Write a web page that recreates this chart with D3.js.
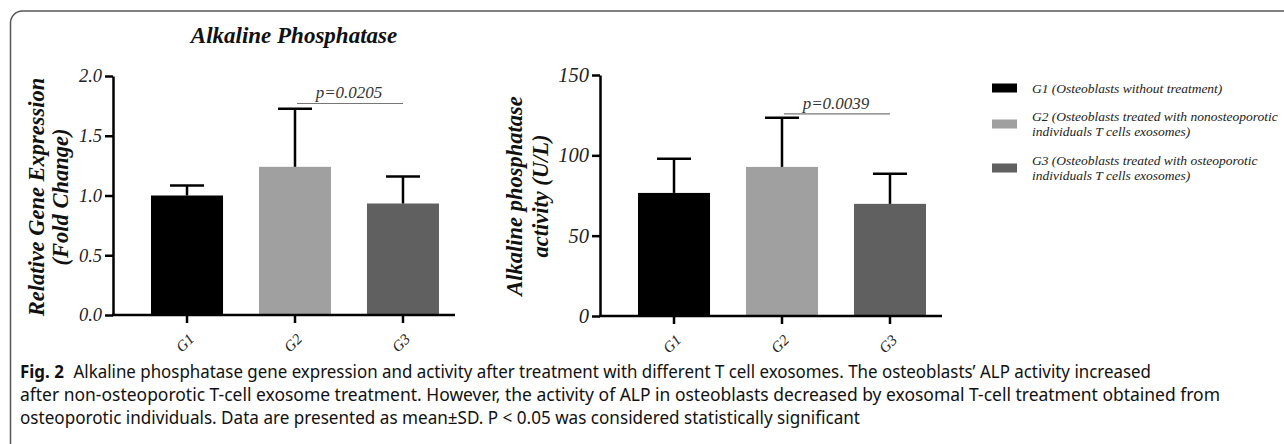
<!DOCTYPE html>
<html>
<head>
<meta charset="utf-8">
<script src="https://cdn.jsdelivr.net/npm/d3@7"></script>
<style>
  body { margin: 0; background: #fff; }
  svg { display: block; }
</style>
</head>
<body>
<script>
const groups = ["G1", "G2", "G3"];
const barColors = ["#000000", "#a0a0a0", "#606060"];

// panel 1: relative gene expression
const geneMean = [1.0, 1.24, 0.933];
const geneSD = [0.083, 0.485, 0.225];
const geneTicks = [0, 0.5, 1.0, 1.5, 2.0];

// panel 2: ALP activity
const activityMean = [76.6, 92.8, 69.8];
const activitySD = [21.2, 30.6, 18.7];
const activityTicks = [0, 50, 100, 150];

// significance bar between G2 and G3
const sigPair = ["G2", "G3"];
const geneSig = [1.77, "p=0.0205"];
const activitySig = [125.8, "p=0.0039"];

const legendLines = [
  ["G1 (Osteoblasts without treatment)"],
  ["G2 (Osteoblasts treated with nonosteoporotic", "individuals T cells exosomes)"],
  ["G3 (Osteoblasts treated with osteoporotic", "individuals T cells exosomes)"]
];

const captionLines = [
  "Alkaline phosphatase gene expression and activity after treatment with different T cell exosomes. The osteoblasts\u2019 ALP activity increased",
  "after non-osteoporotic T-cell exosome treatment. However, the activity of ALP in osteoblasts decreased by exosomal T-cell treatment obtained from",
  "osteoporotic individuals. Data are presented as mean\u00b1SD. P < 0.05 was considered statistically significant"
];

const W = 1284, H = 444;
const serif = "'Liberation Serif', 'DejaVu Serif', serif";

const svg = d3.select('body').append('svg')
  .attr('width', W).attr('height', H)
  .style('background', '#fff');

// figure frame (top + left with rounded corner)
svg.append('path')
  .attr('d', `M10.5,${H} V23 A12,12 0 0 1 22.5,11 H${W}`)
  .attr('fill', 'none').attr('stroke', '#555').attr('stroke-width', 1.5);

function drawPanel(o) {
  const g = svg.append('g');
  const x = d3.scaleBand().domain(groups)
    .range([o.left + 20, o.left + 344]).paddingInner(0.333).paddingOuter(0.1667);
  const y = d3.scaleLinear().domain([0, o.max]).range([o.bottom, o.top]);
  const cx = d => x(d) + x.bandwidth() / 2;

  // bars
  g.selectAll('rect.bar').data(groups).enter().append('rect')
    .attr('x', d => x(d)).attr('width', x.bandwidth())
    .attr('y', (d, i) => y(o.mean[i]))
    .attr('height', (d, i) => y(0) - y(o.mean[i]))
    .attr('fill', (d, i) => barColors[i]);

  // error bars (upper only)
  const eb = g.selectAll('g.err').data(groups).enter().append('g')
    .attr('stroke', '#000').attr('stroke-width', 2.5);
  eb.append('line')
    .attr('x1', cx).attr('x2', cx)
    .attr('y1', (d, i) => y(o.mean[i])).attr('y2', (d, i) => y(o.mean[i] + o.sd[i]));
  eb.append('line')
    .attr('x1', d => cx(d) - 17).attr('x2', d => cx(d) + 17)
    .attr('y1', (d, i) => y(o.mean[i] + o.sd[i])).attr('y2', (d, i) => y(o.mean[i] + o.sd[i]));

  // y axis
  const ya = g.append('g').attr('transform', `translate(${o.left},0)`)
    .call(d3.axisLeft(y).tickValues(o.ticks).tickSize(8).tickSizeOuter(0).tickPadding(3)
      .tickFormat(o.fmt));
  ya.select('.domain').attr('stroke-width', 2.5);
  ya.selectAll('.tick line').attr('stroke-width', 2.5);
  ya.selectAll('.tick text').attr('font-family', serif).attr('font-style', 'italic')
    .attr('font-size', o.tickSize).attr('fill', '#222');

  // x axis
  const xa = g.append('g').attr('transform', `translate(0,${o.bottom})`)
    .call(d3.axisBottom(x).tickSize(8).tickSizeOuter(0));
  xa.select('.domain').remove();
  xa.append('line').attr('x1', o.left - 1).attr('x2', o.left + 342)
    .attr('stroke', '#000').attr('stroke-width', 2.5);
  xa.selectAll('.tick line').attr('stroke-width', 2.5);
  xa.selectAll('.tick text')
    .attr('font-family', serif).attr('font-style', 'italic').attr('font-size', 15).attr('fill', '#222')
    .attr('text-anchor', 'end').attr('dy', null).attr('y', 0)
    .attr('transform', 'translate(8,25) rotate(-45)');

  // significance line
  const sx1 = cx(sigPair[0]), sx2 = cx(sigPair[1]);
  g.append('line').attr('x1', sx1 + 2).attr('x2', sx2)
    .attr('y1', y(o.sig[0])).attr('y2', y(o.sig[0]))
    .attr('stroke', '#777').attr('stroke-width', 1.2);
  g.append('text').attr('x', (sx1 + sx2) / 2).attr('y', y(o.sig[0]) - 5)
    .attr('text-anchor', 'middle').attr('font-family', serif).attr('font-style', 'italic')
    .attr('font-size', 17).attr('fill', '#333').text(o.sig[1]);

  // y label
  o.ylabel.forEach((t, i) => {
    g.append('text')
      .attr('transform', `translate(${o.labelX[i]},${o.labelY}) rotate(-90)`)
      .attr('text-anchor', 'middle').attr('font-family', serif)
      .attr('font-style', 'italic').attr('font-weight', 'bold').attr('font-size', 22.5)
      .attr('fill', '#111').text(t);
  });
}

drawPanel({
  left: 113, top: 76, bottom: 315, max: 2.0,
  mean: geneMean, sd: geneSD, ticks: geneTicks, fmt: d3.format('.1f'), tickSize: 18.5,
  sig: geneSig, ylabel: ["Relative Gene Expression", "(Fold Change)"], labelX: [44, 68], labelY: 197
});

drawPanel({
  left: 600, top: 75, bottom: 316, max: 150,
  mean: activityMean, sd: activitySD, ticks: activityTicks, fmt: d3.format('d'), tickSize: 20.5,
  sig: activitySig, ylabel: ["Alkaline phosphatase", "activity (U/L)"], labelX: [522, 548], labelY: 196
});

// title
svg.append('text').attr('x', 294).attr('y', 43).attr('text-anchor', 'middle')
  .attr('font-family', serif).attr('font-style', 'italic').attr('font-weight', 'bold')
  .attr('font-size', 23).attr('fill', '#111').text('Alkaline Phosphatase');

// legend
const legRows = [88, 124, 168];
legendLines.forEach((lines, i) => {
  svg.append('rect').attr('x', 992).attr('y', legRows[i] - 4.5).attr('width', 25).attr('height', 9)
    .attr('fill', barColors[i]);
  const y0 = legRows[i] - (lines.length - 1) * 7.5 + 4.5;
  lines.forEach((t, j) => {
    svg.append('text').attr('x', 1032).attr('y', y0 + j * 15)
      .attr('font-family', serif).attr('font-style', 'italic').attr('font-size', 13.5)
      .attr('fill', '#222').text(t);
  });
});

// caption
const cap = svg.append('g').attr('font-family', "'Noto Sans', sans-serif").attr('fill', '#111')
  .attr('font-size', 17.5);
const capY = [378, 401, 424];
const l1 = cap.append('text').attr('x', 20).attr('y', capY[0]);
l1.append('tspan').attr('font-weight', 'bold').text('Fig. 2');
l1.append('tspan').attr('dx', 10).text(captionLines[0]);
cap.append('text').attr('x', 20).attr('y', capY[1]).text(captionLines[1]);
cap.append('text').attr('x', 20).attr('y', capY[2]).text(captionLines[2]);
// squeeze caption lines to the figure's line lengths
const capW = [1131, 1200, 840];
cap.selectAll('text').each(function (d, i) {
  d3.select(this).attr('textLength', capW[i]).attr('lengthAdjust', 'spacingAndGlyphs');
});
</script>
</body>
</html>
